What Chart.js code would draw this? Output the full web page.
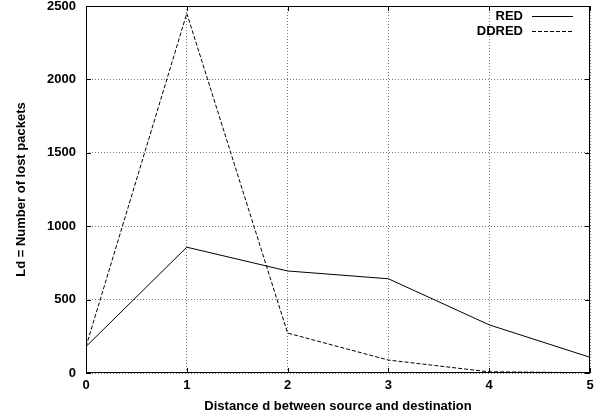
<!DOCTYPE html>
<html>
<head>
<meta charset="utf-8">
<script src="https://cdn.jsdelivr.net/npm/chart.js@4/dist/chart.umd.min.js"></script>
<style>
  html, body { margin: 0; padding: 0; background: #fff; }
  #wrap { width: 610px; height: 420px; }
</style>
</head>
<body>
<div id="wrap"><canvas id="c" width="610" height="420"></canvas></div>
<script>
// Packet loss versus source–destination distance
const distances = [0, 1, 2, 3, 4, 5];
const redLoss = [180, 857, 695, 642, 328, 107];
const ddredLoss = [180, 2450, 272, 88, 8, 2];
const yTicks = [0, 500, 1000, 1500, 2000, 2500];
const seriesNames = ['RED', 'DDRED'];

const FONT = "'Liberation Sans', Arial, Helvetica, sans-serif";
const FONT_SIZE = 13;

// Legend in the upper right: label text followed by a line sample
const sampleLegend = {
  id: 'sampleLegend',
  afterDatasetsDraw(chart) {
    const { ctx, chartArea } = chart;
    ctx.save();
    ctx.font = 'bold ' + FONT_SIZE + 'px ' + FONT;
    ctx.textAlign = 'right';
    ctx.textBaseline = 'middle';
    chart.data.datasets.forEach((ds, i) => {
      const y = chartArea.top + 10 + i * 15;
      ctx.fillStyle = '#000';
      ctx.fillText(ds.label, chartArea.right - 67, y);
      ctx.beginPath();
      ctx.strokeStyle = ds.borderColor;
      ctx.lineWidth = ds.borderWidth;
      ctx.setLineDash(ds.borderDash || []);
      ctx.moveTo(chartArea.right - 58, Math.round(y) + 0.5);
      ctx.lineTo(chartArea.right - 17, Math.round(y) + 0.5);
      ctx.stroke();
    });
    ctx.restore();
  }
};

// Frame around the plot with inward tick marks on all four sides
const frameTicks = {
  id: 'frameTicks',
  afterDraw(chart) {
    const { ctx, chartArea: a, scales } = chart;
    ctx.save();
    ctx.strokeStyle = '#000';
    ctx.lineWidth = 1;
    ctx.setLineDash([]);
    ctx.strokeRect(a.left + 0.5, a.top + 0.5, a.right - a.left - 1, a.bottom - a.top - 1);
    ctx.beginPath();
    scales.x.ticks.forEach(t => {
      const x = Math.round(scales.x.getPixelForValue(t.value)) + 0.5;
      ctx.moveTo(x, a.bottom); ctx.lineTo(x, a.bottom - 5);
      ctx.moveTo(x, a.top); ctx.lineTo(x, a.top + 5);
    });
    scales.y.ticks.forEach(t => {
      const y = Math.round(scales.y.getPixelForValue(t.value)) + 0.5;
      ctx.moveTo(a.left, y); ctx.lineTo(a.left + 5, y);
      ctx.moveTo(a.right, y); ctx.lineTo(a.right - 5, y);
    });
    ctx.stroke();
    ctx.restore();
  }
};

const tickFont = { family: FONT, size: FONT_SIZE, weight: 'bold' };

new Chart(document.getElementById('c'), {
  type: 'line',
  data: {
    datasets: [
      {
        label: seriesNames[0],
        data: distances.map((d, i) => ({ x: d, y: redLoss[i] })),
        borderColor: '#000',
        borderWidth: 1,
        pointRadius: 0,
        tension: 0,
        fill: false
      },
      {
        label: seriesNames[1],
        data: distances.map((d, i) => ({ x: d, y: ddredLoss[i] })),
        borderColor: '#000',
        borderWidth: 1,
        borderDash: [4, 2],
        pointRadius: 0,
        tension: 0,
        fill: false
      }
    ]
  },
  options: {
    responsive: false,
    animation: false,
    devicePixelRatio: 1,
    layout: { padding: { top: 6, right: 20, left: 0, bottom: 0 } },
    plugins: {
      legend: { display: false },
      tooltip: { enabled: false }
    },
    scales: {
      x: {
        type: 'linear',
        min: 0,
        max: 5,
        afterBuildTicks(scale) { scale.ticks = distances.map(v => ({ value: v })); },
        afterFit(scale) {
          scale.height = 47;
          scale.paddingLeft = 0;
          scale.paddingRight = 0;
        },
        grid: { color: '#777', lineWidth: 1, drawTicks: false },
        border: { display: false, dash: [1, 2] },
        ticks: {
          color: '#000',
          font: tickFont,
          padding: 5,
          maxRotation: 0,
          callback: v => String(v)
        },
        title: {
          display: true,
          text: 'Distance d between source and destination',
          color: '#000',
          font: tickFont,
          padding: { top: 2, bottom: 6 }
        }
      },
      y: {
        min: 0,
        max: 2500,
        afterBuildTicks(scale) { scale.ticks = yTicks.map(v => ({ value: v })); },
        afterFit(scale) {
          scale.width = 86;
          scale.paddingTop = 0;
          scale.paddingBottom = 0;
        },
        grid: { color: '#777', lineWidth: 1, drawTicks: false },
        border: { display: false, dash: [1, 2] },
        ticks: {
          color: '#000',
          font: tickFont,
          padding: 10,
          callback: v => String(v)
        },
        title: {
          display: true,
          text: 'Ld = Number of lost packets',
          color: '#000',
          font: tickFont,
          padding: { top: 14, bottom: 4 }
        }
      }
    }
  },
  plugins: [sampleLegend, frameTicks]
});
</script>
</body>
</html>
